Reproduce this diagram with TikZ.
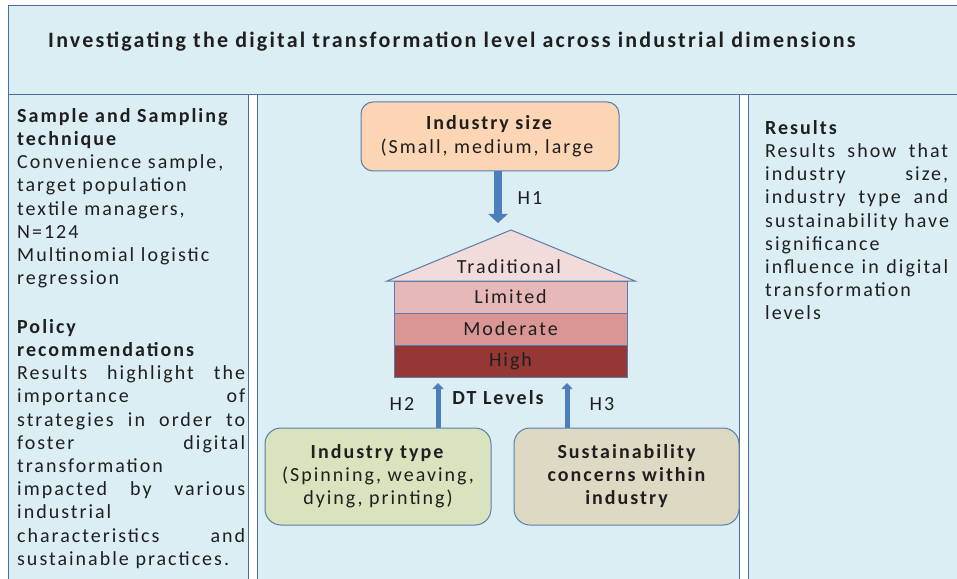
\documentclass[tikz,border=0pt]{standalone}
\usepackage{fontspec}
\setmainfont[LetterSpace=10]{Carlito}
\usetikzlibrary{arrows.meta}

\definecolor{panelfill}{HTML}{DBEEF4}
\definecolor{panelline}{HTML}{4A6FA0}
\definecolor{boxline}{HTML}{5B7CAA}
\definecolor{sizefill}{HTML}{FCD5B5}
\definecolor{sizeparen}{HTML}{F1DCC9}
\definecolor{typefill}{HTML}{D7E4BD}
\definecolor{susfill}{HTML}{DDD9C3}
\definecolor{rooffill}{HTML}{F2DCDB}
\definecolor{limitedfill}{HTML}{E6B9B8}
\definecolor{moderatefill}{HTML}{D99694}
\definecolor{highfill}{HTML}{953735}
\definecolor{arrowblue}{HTML}{4C7EBC}
\definecolor{ink}{HTML}{1F1F1F}

% a justified line: words separated by \hfill, spread to a fixed width
\newcommand\spreadline[2]{\makebox[#1][l]{#2}}

\begin{document}
\begin{tikzpicture}[x=1bp,y=-1bp,
  bodyfont/.style={font=\fontsize{20bp}{23.2bp}\selectfont},
  every node/.style={text=ink, inner sep=0pt, bodyfont},
  panel/.style={draw=panelline, fill=panelfill, line width=1.3bp, anchor=north west},
  textblock/.style={anchor=north west, align=left},
  roundbox/.style={draw=boxline, line width=1bp, align=center},
  layer/.style={draw=boxline, line width=1bp, minimum width=233bp, minimum height=32bp},
  bigarrow/.style={arrowblue, line width=8bp, -{Triangle[width=19bp,length=9bp]}},
  smallarrow/.style={arrowblue, line width=5bp, -{Triangle[width=11bp,length=6bp]}},
]
\useasboundingbox (0,0) rectangle (957,579);
\clip (0,0) rectangle (957,579);
\fill[white] (0,0) rectangle (957,579);

% frame: heading strip and three columns
\node[panel, minimum width=970bp, minimum height=89bp] (head) at (8,5) {};
\node[panel, minimum width=240bp, minimum height=500bp] (leftcol) at (8,94) {};
\node[panel, minimum width=482bp, minimum height=500bp] (midcol) at (257,94) {};
\node[panel, minimum width=230bp, minimum height=500bp] (rightcol) at (748,94) {};

\node[anchor=west, font=\fontsize{22bp}{24bp}\selectfont\bfseries] (title) at (48,42)
  {Investigating the digital transformation level across industrial dimensions};

% left column
\node[textblock, text width=228bp] (sampling) at (17,108)
  {\textbf{Sample and Sampling}\\
   \textbf{technique}\\
   Convenience sample,\\
   target population\\
   textile managers,\\
   N=124\\
   Multinomial logistic\\
   regression};
\node[textblock, text width=228bp] (policy) at (17,319)
  {\textbf{Policy}\\
   \textbf{recommendations}\\
   \spreadline{228bp}{Results \hfill highlight \hfill the}\\
   \spreadline{228bp}{importance \hfill of}\\
   \spreadline{228bp}{strategies \hfill in \hfill order \hfill to}\\
   \spreadline{228bp}{foster \hfill digital}\\
   transformation\\
   \spreadline{228bp}{impacted \hfill by \hfill various}\\
   industrial\\
   \spreadline{228bp}{characteristics \hfill and}\\
   sustainable practices.};

% right column
\node[textblock, text width=183bp] (results) at (765,120)
  {\textbf{Results}\\
   \spreadline{183bp}{Results \hfill show \hfill that}\\
   \spreadline{183bp}{industry \hfill size,}\\
   \spreadline{183bp}{industry \hfill type \hfill and}\\
   \spreadline{183bp}{sustainability \hfill have}\\
   significance\\
   \spreadline{183bp}{influence \hfill in \hfill digital}\\
   transformation\\
   levels};

% middle column: factors and DT level house
\node[roundbox, fill=sizefill, rounded corners=12bp, minimum width=258bp, minimum height=69bp,
      font=\fontsize{20bp}{24bp}\selectfont] (size) at (490,136.5)
  {\textbf{Industry size}\\(Small, medium, large\textcolor{sizeparen}{)}};

\coordinate (apex) at (511,230);
\draw[draw=boxline, line width=1bp, fill=rooffill] (387,281) -- (apex) -- (635,281) -- cycle;
\node (traditional) at (509,267) {Traditional};

\node[layer, fill=limitedfill] (limited) at (510.5,297) {Limited};
\node[layer, fill=moderatefill] (moderate) at (510.5,329) {Moderate};
\node[layer, fill=highfill] (high) at (510.5,361) {High};

\node[roundbox, fill=typefill, rounded corners=16bp, minimum width=226bp, minimum height=97bp,
      font=\fontsize{20bp}{23bp}\selectfont] (type) at (378,476.5)
  {\textbf{Industry type}\\(Spinning, weaving,\\dying, printing)};
\node[roundbox, fill=susfill, rounded corners=16bp, minimum width=225bp, minimum height=97bp,
      font=\fontsize{20bp}{23bp}\selectfont\bfseries] (sus) at (626.5,476.5)
  {Sustainability\\concerns within\\industry};

% hypothesis arrows
\coordinate (h1tip) at (498,223);
\coordinate (h2tip) at (438,383);
\coordinate (h3tip) at (567,383);
\draw[bigarrow] (size.south -| h1tip) -- (h1tip);
\draw[smallarrow] (type.north -| h2tip) -- (h2tip);
\draw[smallarrow] (sus.north -| h3tip) -- (h3tip);

\node (h1lab) at (530,198) {H1};
\node (h2lab) at (402,404) {H2};
\node (h3lab) at (602,404) {H3};
\node[font=\fontsize{20bp}{23bp}\selectfont\bfseries] (dtlab) at (498,398) {DT Levels};
\end{tikzpicture}
\end{document}
